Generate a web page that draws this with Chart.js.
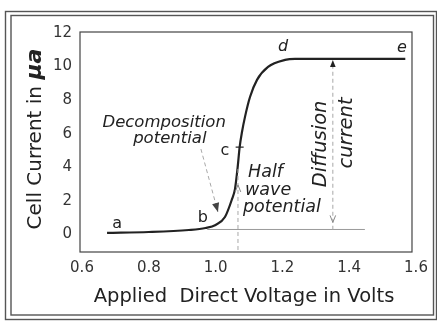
<!DOCTYPE html>
<html>
<head>
<meta charset="utf-8">
<script src="https://cdn.jsdelivr.net/npm/chart.js@4.4.1/dist/chart.umd.min.js"></script>
<style>
  html, body { margin: 0; padding: 0; background: #fff; }
  canvas { display: block; }
</style>
</head>
<body>
<canvas id="polarogram" width="437" height="321"></canvas>
<script>
// Polarographic wave: cell current vs. applied direct voltage
const voltage = [0.675, 0.80, 0.92, 0.97, 1.00, 1.028, 1.049, 1.058, 1.066, 1.072, 1.079, 1.088, 1.103, 1.124, 1.157, 1.208, 1.238, 1.568];
const current = [0.10, 0.15, 0.27, 0.39, 0.57, 1.04, 2.10, 2.70, 4.00, 5.20, 6.10, 7.00, 8.18, 9.20, 9.97, 10.39, 10.45, 10.45];

const xTicks = [0.6, 0.8, 1.0, 1.2, 1.4, 1.6];
const xTickLabels = ['0.6', '0.8', '1.0', '1.2', '1.4', '1.6'];
const yTicks = [0, 2, 4, 6, 8, 10, 12];

// Characteristic values of the wave
const residualCurrent = 0.3;     // extrapolated residual line
const limitingCurrent = 10.45;   // plateau d–e
const halfWaveVoltage = 1.067;
const halfWaveCurrent = 5.2;
const diffusionVoltage = 1.351;
const decompositionVoltage = 1.007;

// Letters along the curve
const pointLabels = ['a', 'b', 'c', 'd', 'e'];
const pointLabelV = [0.705, 0.962, 1.028, 1.202, 1.558];
const pointLabelI = [0.62, 0.98, 4.97, 11.16, 11.1];

const INK = '#222';
const FAINT = '#a8a8a8';
const FONT = '"DejaVu Sans", sans-serif';

function arrowHead(ctx, x, y, dir, size, filled, color) {
  // dir: angle in radians the arrow points to
  ctx.save();
  ctx.translate(x, y);
  ctx.rotate(dir);
  ctx.beginPath();
  ctx.moveTo(0, 0);
  ctx.lineTo(-size, -size * 0.4);
  if (filled) {
    ctx.lineTo(-size, size * 0.4);
    ctx.closePath();
    ctx.fillStyle = color;
    ctx.fill();
  } else {
    ctx.moveTo(0, 0);
    ctx.lineTo(-size, size * 0.4);
    ctx.strokeStyle = color;
    ctx.lineWidth = 1;
    ctx.stroke();
  }
  ctx.restore();
}

const framePlugin = {
  id: 'frame',
  beforeDraw(chart) {
    const ctx = chart.ctx;
    const xs = chart.scales.x;
    ctx.save();
    ctx.strokeStyle = '#555';
    ctx.lineWidth = 1.4;
    ctx.strokeRect(5.5, 11.5, 431, 308);
    ctx.strokeRect(11, 15.5, 422.5, 299.5);
    // plot box
    const l = chart.chartArea.left, t = chart.chartArea.top, b = chart.chartArea.bottom;
    const r = xs.getPixelForValue(1.588);
    ctx.strokeStyle = '#444';
    ctx.lineWidth = 1.2;
    ctx.strokeRect(l, t, r - l, b - t);
    ctx.restore();
  }
};

const notesPlugin = {
  id: 'notes',
  afterDatasetsDraw(chart) {
    const ctx = chart.ctx;
    const xs = chart.scales.x, ys = chart.scales.y;
    const X = v => xs.getPixelForValue(v);
    const Y = v => ys.getPixelForValue(v);
    ctx.save();

    // residual current line
    ctx.strokeStyle = '#9a9a9a';
    ctx.lineWidth = 1;
    ctx.beginPath();
    ctx.moveTo(X(0.975), Y(residualCurrent));
    ctx.lineTo(X(1.447), Y(residualCurrent));
    ctx.stroke();

    // dashed guide lines
    ctx.setLineDash([4, 3]);
    ctx.strokeStyle = FAINT;
    ctx.beginPath();
    ctx.moveTo(X(halfWaveVoltage), Y(3.9));
    ctx.lineTo(X(halfWaveVoltage), Y(-1.0));
    ctx.moveTo(X(diffusionVoltage), Y(10.1));
    ctx.lineTo(X(diffusionVoltage), Y(residualCurrent));
    ctx.moveTo(X(0.956), Y(5.09));
    ctx.lineTo(X(decompositionVoltage), Y(1.34));
    ctx.stroke();
    ctx.setLineDash([]);

    arrowHead(ctx, X(diffusionVoltage), Y(limitingCurrent) + 1, -Math.PI / 2, 7, true, INK);
    arrowHead(ctx, X(diffusionVoltage), Y(0.72), Math.PI / 2, 7, false, '#888');
    arrowHead(ctx, X(halfWaveVoltage), Y(2.95), -Math.PI / 2, 7, false, '#888');
    const ax = X(decompositionVoltage), ay = Y(1.34);
    arrowHead(ctx, ax, ay, Math.atan2(ay - Y(5.09), ax - X(0.956)), 9, true, '#444');

    // half-wave mark "c"
    ctx.strokeStyle = INK;
    ctx.lineWidth = 1.2;
    ctx.beginPath();
    ctx.moveTo(X(1.072) - 4, Y(halfWaveCurrent));
    ctx.lineTo(X(1.072) + 4, Y(halfWaveCurrent));
    ctx.stroke();

    // letters
    ctx.fillStyle = INK;
    ctx.textAlign = 'center';
    ctx.textBaseline = 'middle';
    pointLabels.forEach((s, i) => {
      ctx.font = (i >= 3 ? 'italic ' : '') + '16px ' + FONT;
      ctx.fillText(s, X(pointLabelV[i]), Y(pointLabelI[i]));
    });

    ctx.font = 'italic 16.5px ' + FONT;
    ctx.fillText('Decomposition', X(0.846), Y(6.64));
    ctx.fillText('potential', X(0.863), Y(5.68));

    ctx.textAlign = 'left';
    ctx.font = 'italic 17.5px ' + FONT;
    ctx.fillText('Half', X(1.097), Y(3.72));
    ctx.fillText('wave', X(1.088), Y(2.65));
    ctx.fillText('potential', X(1.082), Y(1.64));

    ctx.textAlign = 'center';
    ctx.font = 'italic 19.5px ' + FONT;
    [['Diffusion', 1.316, 5.39], ['current', 1.393, 6.04]].forEach(([s, v, c]) => {
      ctx.save();
      ctx.translate(X(v), Y(c));
      ctx.rotate(-Math.PI / 2);
      ctx.fillText(s, 0, 0);
      ctx.restore();
    });

    // axis titles
    ctx.font = '19.5px ' + FONT;
    ctx.textBaseline = 'alphabetic';
    ctx.fillText('Applied  Direct Voltage in Volts', 244, 302);

    ctx.save();
    ctx.translate(41, 139);
    ctx.rotate(-Math.PI / 2);
    const part1 = 'Cell Current in ';
    const part2 = 'μa';
    ctx.font = '20px ' + FONT;
    const w1 = ctx.measureText(part1).width;
    ctx.font = 'italic bold 22px ' + FONT;
    const w2 = ctx.measureText(part2).width;
    const start = -(w1 + w2) / 2;
    ctx.textAlign = 'left';
    ctx.font = '20px ' + FONT;
    ctx.fillText(part1, start, 0);
    ctx.font = 'italic bold 22px ' + FONT;
    ctx.fillText(part2, start + w1, 0);
    ctx.restore();

    ctx.restore();
  }
};

new Chart(document.getElementById('polarogram'), {
  type: 'line',
  data: {
    datasets: [{
      data: voltage.map((v, i) => ({ x: v, y: current[i] })),
      borderColor: INK,
      borderWidth: 2.2,
      pointRadius: 0,
      fill: false,
      cubicInterpolationMode: 'monotone'
    }]
  },
  options: {
    responsive: false,
    animation: false,
    devicePixelRatio: 1,
    layout: { padding: { left: 0, top: 32, right: 21, bottom: 0 } },
    plugins: { legend: { display: false }, tooltip: { enabled: false } },
    scales: {
      x: {
        type: 'linear',
        min: 0.594,
        max: 1.6,
        grid: { display: false, drawTicks: false },
        border: { display: false },
        afterBuildTicks: s => { s.ticks = xTicks.map(v => ({ value: v })); },
        afterFit: s => { s.height = 69; },
        ticks: {
          padding: 7,
          autoSkip: false,
          maxRotation: 0,
          color: '#333',
          font: { family: FONT, size: 15 },
          callback: (v) => xTickLabels[xTicks.findIndex(t => Math.abs(t - v) < 1e-6)]
        }
      },
      y: {
        min: -1.04,
        max: 12.05,
        grid: { display: false, drawTicks: false },
        border: { display: false },
        afterBuildTicks: s => { s.ticks = yTicks.map(v => ({ value: v })); },
        afterFit: s => { s.width = 80; },
        ticks: {
          padding: 8,
          color: '#333',
          font: { family: FONT, size: 15 },
          callback: v => String(v)
        }
      }
    }
  },
  plugins: [framePlugin, notesPlugin]
});
</script>
</body>
</html>
